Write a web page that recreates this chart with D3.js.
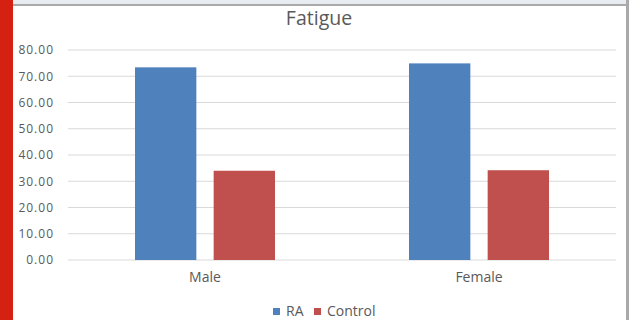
<!DOCTYPE html>
<html>
<head>
<meta charset="utf-8">
<script src="https://cdn.jsdelivr.net/npm/d3@7"></script>
<style>
  body { margin: 0; background: #fff; }
  text { font-family: "Open Sans", "Noto Sans", sans-serif; fill: #595959; }
</style>
</head>
<body>
<div id="chart"></div>
<script>
(function() {
  var categories = ["Male", "Female"]
  var seriesNames = ["RA", "Control"]
  var raValues = [73.4, 74.9]
  var controlValues = [34.0, 34.2]
  var yTicks = [0, 10, 20, 30, 40, 50, 60, 70, 80]

  var W = 629, H = 320
  var margin = {top: 50, right: 13, bottom: 60, left: 68}
  var width = W - margin.left - margin.right,
      height = H - margin.top - margin.bottom

  var svg = d3.select("#chart").append("svg")
      .attr("width", W)
      .attr("height", H)

  // window frame bits around the chart
  svg.append("rect").attr("x", 0).attr("y", 0).attr("width", W).attr("height", 4).attr("fill", "#e6ecf2")
  svg.append("rect").attr("x", 0).attr("y", 4).attr("width", W).attr("height", 2).attr("fill", "#a9a9a9")
  svg.append("rect").attr("x", W - 3).attr("y", 0).attr("width", 3).attr("height", H).attr("fill", "#a9a9a9")
  svg.append("rect").attr("x", 0).attr("y", 0).attr("width", 13).attr("height", H).attr("fill", "#d42112")

  var g = svg.append("g")
      .attr("transform", "translate(" + margin.left + "," + margin.top + ")")

  var data = categories.map(function(c, i) {
    return {category: c, values: [raValues[i], controlValues[i]]}
  })

  var xScale = d3.scaleBand().domain(categories).range([0, width])
  var innerScale = d3.scaleBand().domain(seriesNames)
      .range([67, xScale.bandwidth() - 67])
      .paddingInner(0.22)
  var yScale = d3.scaleLinear().domain([0, 80]).range([height, 0])
  var colourScale = d3.scaleOrdinal().domain(seriesNames).range(["#4f81bd", "#c0504d"])

  // gridlines
  g.selectAll(".grid")
    .data(yTicks)
    .enter().append("line")
    .attr("x1", 0).attr("x2", width)
    .attr("y1", d => yScale(d)).attr("y2", d => yScale(d))
    .attr("stroke", "#d9d9d9")
    .attr("stroke-width", 1)

  var yAxis = d3.axisLeft(yScale).tickValues(yTicks).tickFormat(d3.format(".2f")).tickSize(0).tickPadding(14)
  g.append("g")
    .attr("class", "axis y-axis")
    .call(yAxis)
    .call(a => a.select(".domain").remove())
    .selectAll("text")
    .attr("font-size", 12)
    .style("letter-spacing", "1px")
    .style("fill", "#595959")

  var groups = g.selectAll(".group")
    .data(data)
    .enter().append("g")
    .attr("transform", d => "translate(" + xScale(d.category) + ",0)")

  groups.selectAll("rect")
    .data(d => d.values.map((v, i) => ({series: seriesNames[i], value: v})))
    .enter().append("rect")
    .attr("x", d => innerScale(d.series))
    .attr("width", innerScale.bandwidth())
    .attr("y", d => yScale(d.value))
    .attr("height", d => height - yScale(d.value))
    .attr("fill", d => colourScale(d.series))

  var xAxis = d3.axisBottom(xScale).tickSize(0).tickPadding(12)
  g.append("g")
    .attr("class", "axis x-axis")
    .attr("transform", "translate(0," + height + ")")
    .call(xAxis)
    .call(a => a.select(".domain").remove())
    .selectAll("text")
    .attr("font-size", 14)
    .style("fill", "#595959")

  svg.append("text")
    .attr("x", 319).attr("y", 25)
    .attr("text-anchor", "middle")
    .attr("font-size", 19.5)
    .text("Fatigue")

  // legend
  var legendX = [273, 314]
  var legend = svg.selectAll(".legend")
    .data(seriesNames)
    .enter().append("g")
    .attr("transform", (d, i) => "translate(" + legendX[i] + ",308)")
  legend.append("rect")
    .attr("width", 7).attr("height", 7)
    .attr("fill", d => colourScale(d))
  legend.append("text")
    .attr("x", 13).attr("y", 7.5)
    .attr("font-size", 14)
    .text(d => d)
})()
</script>
</body>
</html>
